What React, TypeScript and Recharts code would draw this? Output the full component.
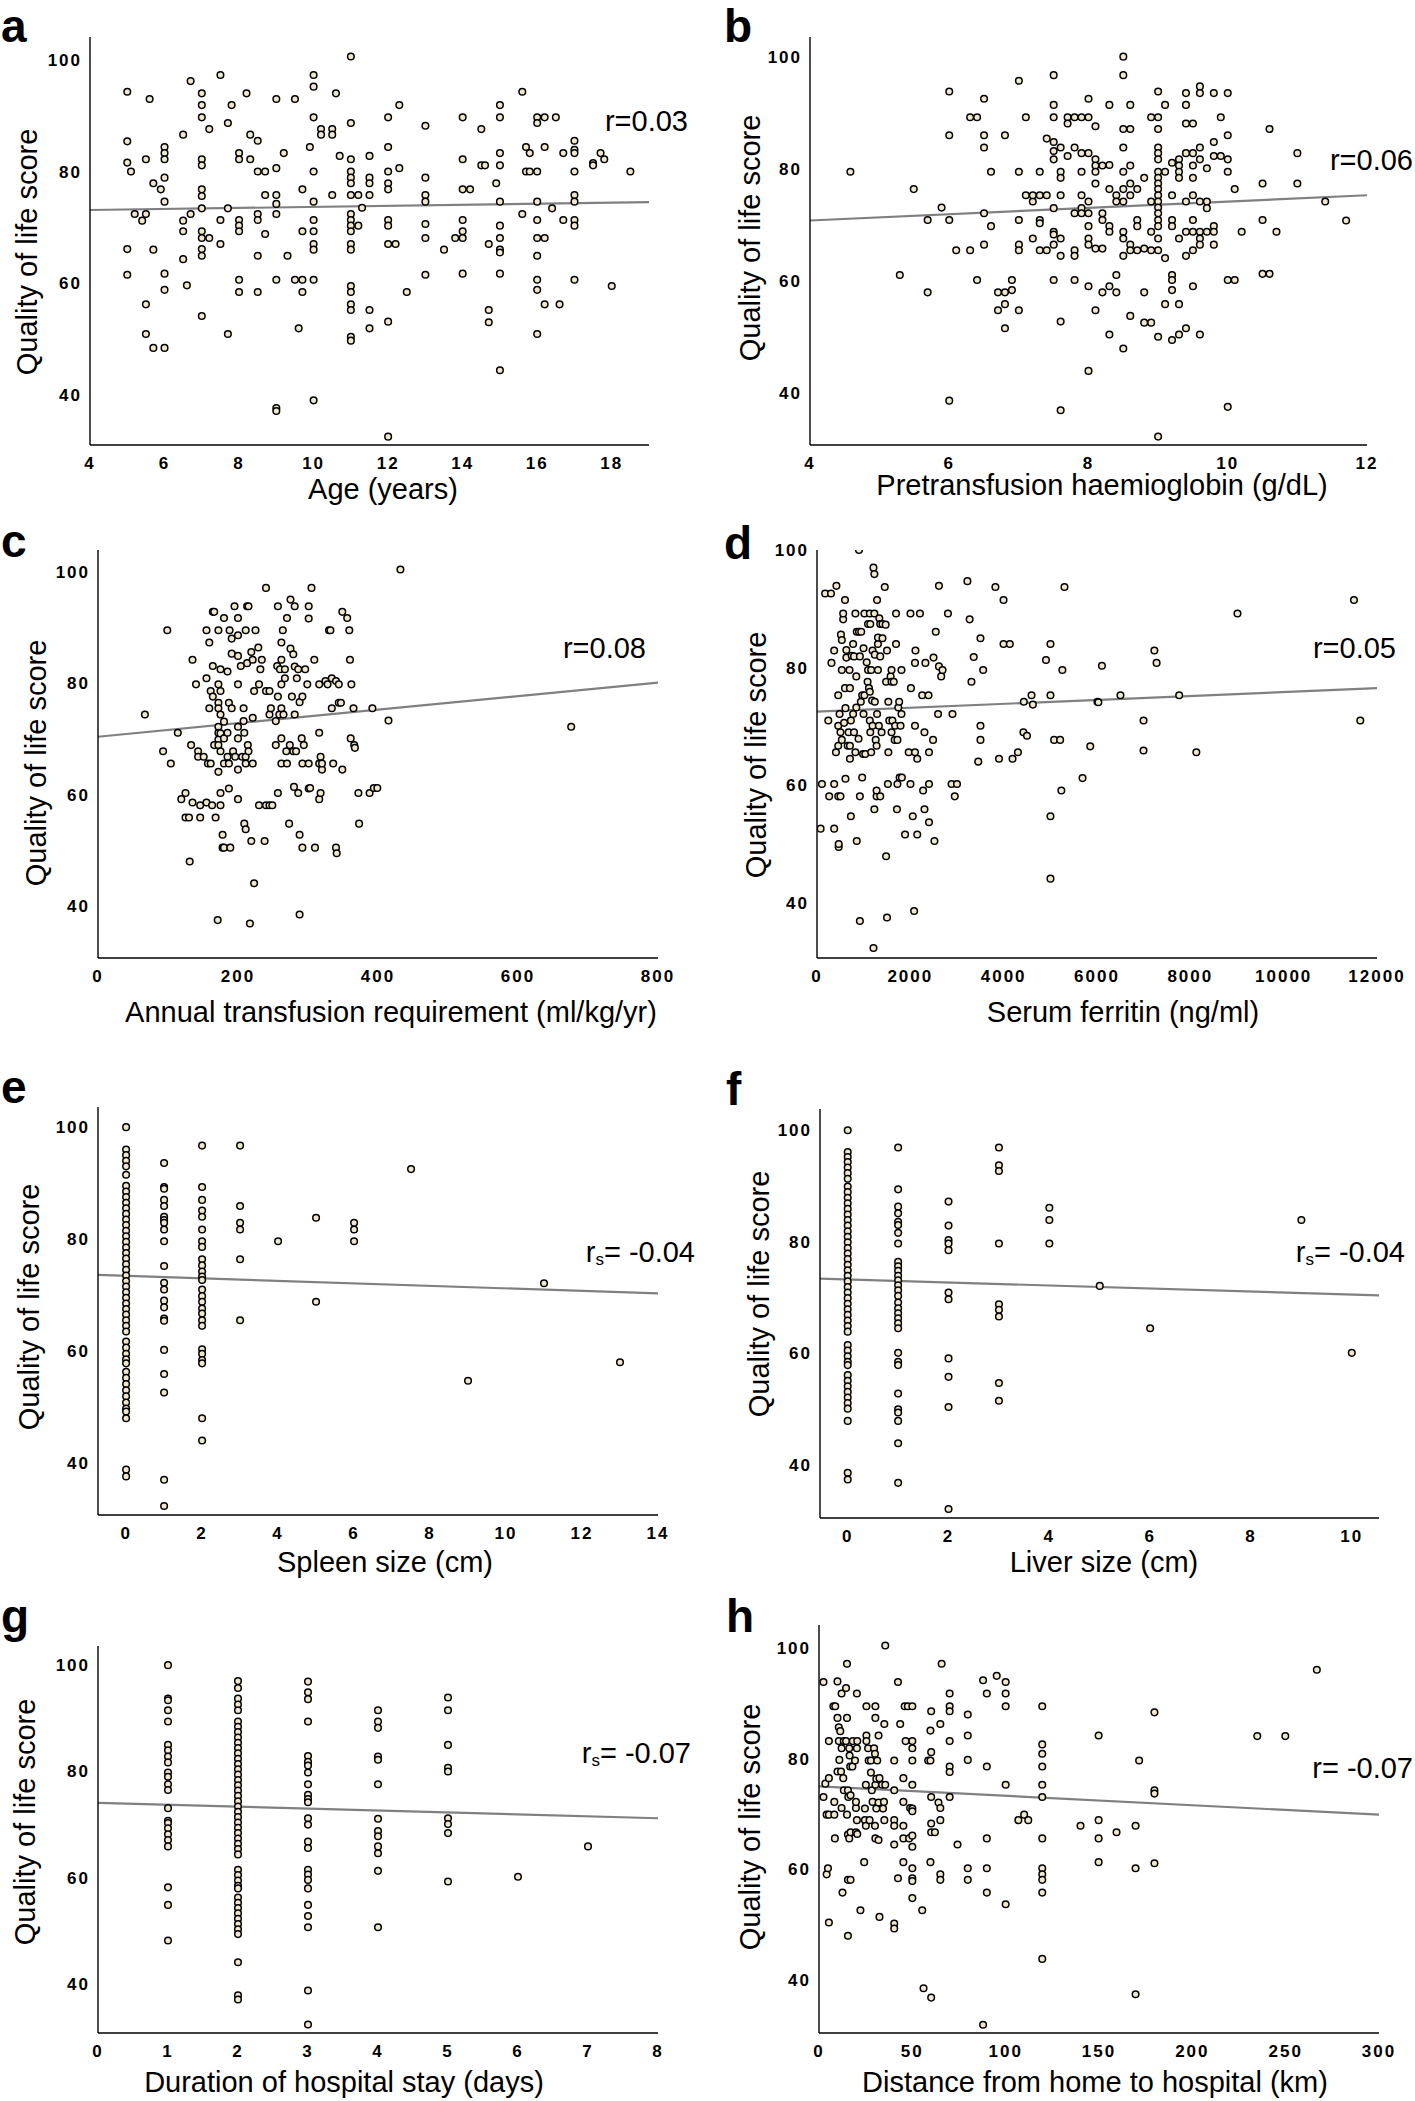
import React from 'react';
import { ScatterChart, Scatter, XAxis, YAxis, ReferenceLine } from 'recharts';

type Pt = [number, number];

// a: age (years) vs QoL
const ageData: Pt[] = [
  [5, 94.3], [5, 85.4], [5, 81.6], [5, 66.1], [5, 61.5], [5.1, 80], [5.2, 72.4], [5.4, 71.2], [5.5, 72.4], [5.5, 82.2], [5.5, 56.2], [5.5, 50.9], [5.6, 93], [5.7, 77.9], [5.7, 66], [5.7, 48.4], [5.9, 76.8],
  [6, 84.4], [6, 83.3], [6, 82.2], [6, 78.9], [6, 74.6], [6, 61.7], [6, 58.8], [6, 48.4],
  [6.5, 86.6], [6.5, 71.2], [6.5, 69.3], [6.5, 64.3], [6.6, 59.6], [6.7, 72.4], [6.7, 96.2],
  [7, 94], [7, 91.9], [7, 89.7], [7, 82.2], [7, 81.1], [7, 76.8], [7, 75.6], [7, 73.4], [7, 69.3], [7, 68.1], [7, 66.1], [7, 64.9], [7, 54.1],
  [7.2, 87.6], [7.2, 68.1], [7.5, 97.3], [7.5, 71.3], [7.5, 67], [7.7, 88.7], [7.7, 73.4], [7.7, 50.9], [7.8, 91.9],
  [8, 83.3], [8, 82.2], [8, 71.3], [8, 70.3], [8, 69.3], [8, 60.6], [8, 58.4], [8.2, 94], [8.3, 82.2], [8.3, 86.6], [8.5, 85.5], [8.5, 80], [8.5, 72.4], [8.5, 71.3], [8.5, 64.9], [8.5, 58.4], [8.7, 80], [8.7, 75.8], [8.7, 68.8],
  [9, 93], [9, 80.6], [9, 75.8], [9, 74.2], [9, 72.4], [9, 60.6], [9, 37.6], [9, 37.1], [9.2, 83.3], [9.3, 64.9], [9.5, 93], [9.5, 60.6], [9.7, 60.6], [9.7, 76.8], [9.7, 69.3], [9.7, 58.4], [9.6, 51.9], [9.9, 84.4],
  [10, 97.3], [10, 95.2], [10, 89.7], [10, 80], [10, 74.6], [10, 71.3], [10, 69.3], [10, 67], [10, 66], [10, 60.6], [10, 39], [10.2, 87.6], [10.2, 86.6], [10.5, 87.6], [10.5, 86.6], [10.5, 75.8], [10.6, 94], [10.7, 82.8],
  [11, 100.6], [11, 88.7], [11, 82.2], [11, 80], [11, 78.9], [11, 77.9], [11, 75.8], [11, 72.4], [11, 71.3], [11, 70.3], [11, 69.3], [11, 67], [11, 66], [11, 59.5], [11, 58.4], [11, 56.2], [11, 55.2], [11, 50.4], [11, 49.7],
  [11.2, 75.8], [11.2, 70.3], [11.3, 73.5], [11.5, 82.8], [11.5, 78.9], [11.5, 77.9], [11.5, 75.8], [11.5, 55.2], [11.5, 51.9],
  [12, 89.7], [12, 84.4], [12, 80], [12, 77.9], [12, 76.8], [12, 71.3], [12, 70.3], [12, 67], [12, 53.1], [12, 32.5], [12.2, 67], [12.3, 91.9], [12.3, 80.6], [12.5, 58.4],
  [13, 88.2], [13, 78.9], [13, 75.8], [13, 74.6], [13, 70.6], [13, 68.1], [13, 61.5], [13.5, 66],
  [14, 89.7], [14, 82.2], [14, 76.8], [14, 71.3], [14, 69.3], [14, 68.1], [14, 61.7], [13.8, 68.1], [14.2, 76.8], [14.5, 87.6], [14.5, 81.1], [14.6, 81.1], [14.7, 67], [14.7, 55.2], [14.7, 53],
  [15, 91.9], [15, 89.7], [15, 83.3], [15, 81.1], [15, 74.6], [15, 70.3], [15, 68.1], [15, 66], [15, 65.5], [15, 61.7], [15, 44.4], [14.9, 77.9], [15.6, 94.3], [15.6, 72.4], [15.7, 84.4], [15.8, 83.3], [15.7, 80], [15.8, 80],
  [16, 89.7], [16, 88.7], [16, 80], [16, 74.6], [16, 71.3], [16, 68.1], [16, 64.9], [16, 60.6], [16, 58.8], [16, 50.9], [16.2, 89.7], [16.2, 84.4], [16.2, 68.1], [16.2, 56.2], [16.4, 73.4], [16.5, 89.7], [16.6, 56.2], [16.7, 83.3], [16.7, 71.3],
  [17, 85.5], [17, 83.9], [17, 83.3], [17, 80], [17, 75.8], [17, 74.6], [17, 71.3], [17, 70.3], [17, 60.6], [17.5, 81.5], [17.5, 81.1], [17.7, 83.3], [17.8, 82.2], [18, 59.5], [18.5, 80],
];

// b: pretransfusion haemoglobin (g/dL)
const hbData: Pt[] = [
  [4.58, 79.5], [5.29, 61.1], [5.49, 76.4], [5.69, 70.9], [5.69, 58], [5.89, 73.1], [6, 93.8], [6, 86], [6, 70.9], [6, 38.7], [6.1, 65.5], [6.3, 65.5], [6.3, 89.2], [6.4, 89.2], [6.4, 60.2],
  [6.5, 92.5], [6.5, 86], [6.5, 83.8], [6.5, 72.1], [6.5, 66.5], [6.6, 79.5], [6.6, 69.8], [6.7, 58], [6.7, 54.8], [6.8, 58], [6.8, 55.9], [6.8, 51.6], [6.8, 86], [6.9, 60.2], [6.9, 58.4],
  [7, 95.7], [7, 79.5], [7, 70.9], [7, 66.5], [7, 65.5], [7, 54.8], [7.1, 89.2], [7.1, 75.3], [7.2, 74.2], [7.2, 75.3], [7.2, 67.6], [7.3, 79.5], [7.3, 70.9], [7.3, 70.3], [7.3, 65.5], [7.3, 75.3], [7.4, 75.3], [7.4, 65.5], [7.4, 85.4],
  [7.5, 96.7], [7.5, 91.4], [7.5, 89.2], [7.5, 84.8], [7.5, 83.2], [7.5, 81.7], [7.5, 73], [7.5, 68.8], [7.5, 68.3], [7.5, 66.5], [7.5, 60.2],
  [7.6, 83.8], [7.6, 79.5], [7.6, 78.4], [7.6, 75.3], [7.6, 67.6], [7.6, 64.5], [7.6, 52.8], [7.6, 37], [7.7, 89.2], [7.7, 88.1], [7.7, 82.3],
  [7.8, 89.2], [7.8, 83.8], [7.8, 72.1], [7.8, 65.5], [7.8, 64.5], [7.8, 60.2], [7.9, 89.2], [7.9, 82.8], [7.9, 79.5], [7.9, 75.3], [7.9, 73], [7.9, 72.1],
  [8, 92.5], [8, 89.2], [8, 82.8], [8, 74.2], [8, 72.1], [8, 69.8], [8, 67.6], [8, 66.5], [8, 59.1], [8, 44],
  [8.1, 87.6], [8.1, 81.7], [8.1, 80.6], [8.1, 79.5], [8.1, 77.4], [8.1, 65.8], [8.1, 54.8], [8.2, 80.6], [8.2, 72.1], [8.2, 70.9], [8.2, 65.8], [8.2, 58],
  [8.3, 91.4], [8.3, 80.7], [8.3, 76.4], [8.3, 69.8], [8.3, 68.8], [8.3, 59.1], [8.3, 50.5], [8.4, 75.3], [8.4, 74.2], [8.4, 61.1], [8.4, 58],
  [8.5, 100], [8.5, 96.7], [8.5, 87.1], [8.5, 83.8], [8.5, 79.5], [8.5, 76.4], [8.5, 74.2], [8.5, 68.8], [8.5, 67.6], [8.5, 64.5], [8.5, 48],
  [8.6, 91.4], [8.6, 87.1], [8.6, 80.6], [8.6, 77.4], [8.6, 75.3], [8.6, 66.5], [8.6, 65.5], [8.6, 53.8], [8.7, 76.4], [8.7, 70.9], [8.7, 69.8], [8.7, 65.5],
  [8.8, 78.4], [8.8, 65.8], [8.8, 58], [8.8, 52.6], [8.9, 89.2], [8.9, 74.2], [8.9, 68.8], [8.9, 65.5], [8.9, 52.6],
  [9, 93.8], [9, 89.2], [9, 87.1], [9, 83.8], [9, 82.8], [9, 81.7], [9, 79.5], [9, 78.4], [9, 77.4], [9, 76.4], [9, 75.3], [9, 74.2], [9, 73.1], [9, 72.1], [9, 70.9], [9, 69.8], [9, 67.6], [9, 65.5], [9, 50.1], [9, 32.3],
  [9.1, 91.4], [9.1, 79.5], [9.1, 64.1], [9.1, 55.9], [9.2, 81.1], [9.2, 75.3], [9.2, 70.9], [9.2, 69.8], [9.2, 61.1], [9.2, 60.2], [9.2, 58.4], [9.2, 49.5],
  [9.3, 81.7], [9.3, 80.6], [9.3, 79.5], [9.3, 78.4], [9.3, 67.6], [9.3, 55.9], [9.3, 50.5], [9.4, 93.5], [9.4, 91.4], [9.4, 88.1], [9.4, 82.8], [9.4, 74.2], [9.4, 68.8], [9.4, 64.5], [9.4, 51.6],
  [9.5, 88.1], [9.5, 82.8], [9.5, 80.6], [9.5, 78.4], [9.5, 75.3], [9.5, 70.9], [9.5, 68.8], [9.5, 65.5], [9.5, 59.1],
  [9.6, 94.7], [9.6, 93.5], [9.6, 83.8], [9.6, 81.7], [9.6, 74.2], [9.6, 68.8], [9.6, 67.6], [9.6, 66.5], [9.6, 50.5], [9.7, 80.1], [9.7, 74.2], [9.7, 73], [9.7, 68.8],
  [9.8, 93.5], [9.8, 84.8], [9.8, 82.3], [9.8, 69.8], [9.8, 68.8], [9.8, 66.5], [9.9, 89.2], [9.9, 82.3],
  [10, 93.5], [10, 86], [10, 81.7], [10, 79.5], [10, 60.2], [10, 37.6], [10.1, 76.4], [10.1, 60.2], [10.2, 68.8], [10.5, 77.4], [10.5, 70.9], [10.5, 61.3], [10.6, 61.3], [10.6, 87.1], [10.7, 68.8],
  [11, 82.8], [11, 77.4], [11.4, 74.2], [11.7, 70.8],
];

// c: annual transfusion requirement (ml/kg/yr)
const transfusionData: Pt[] = [
  [67, 74.4], [93, 67.8], [99, 89.5], [104, 65.6], [114, 71.1], [125, 60.3], [119, 59.2], [125, 55.9], [130, 55.9], [131, 48], [135, 84.2], [133, 68.9], [140, 79.8], [143, 67.8], [143, 66.8], [135, 58.6], [146, 58.1], [146, 55.9],
  [151, 66.8], [155, 89.5], [155, 80.9], [155, 58.6], [157, 65.6], [159, 75.5], [159, 87.3], [161, 65.6], [163, 58.1], [164, 92.8], [166, 92.8], [164, 83.1], [161, 78.6], [164, 77.6], [166, 68.9], [168, 55.9],
  [172, 89.5], [172, 79.8], [172, 76.5], [172, 75.5], [172, 72.2], [172, 71.1], [172, 69.9], [172, 68.9], [172, 64.1], [171, 37.5], [175, 82.5], [175, 78.6], [175, 74.4], [175, 71], [175, 67.8], [175, 60.3], [175, 58.1], [178, 52.8], [178, 50.5],
  [180, 91.7], [180, 73.1], [180, 70.1], [180, 65.6], [180, 50.5], [185, 82.1], [185, 71.1], [185, 66.8], [187, 76.5], [187, 61.1], [187, 65.6], [188, 89.5], [189, 50.5], [191, 88], [191, 75.5], [191, 85.3], [193, 67.8], [195, 93.8], [196, 66.8],
  [200, 79.8], [200, 72.2], [200, 70.1], [200, 64.5], [200, 59.2], [200, 91.7], [200, 88.6], [200, 84.9], [204, 83.1], [206, 66.8], [208, 75.5], [208, 73.2], [209, 71.1], [209, 54.8], [211, 53.8], [211, 66.8], [211, 65.6], [211, 89.5], [213, 93.8], [213, 83.6],
  [214, 68.9], [215, 67.8], [215, 93.8], [217, 36.9], [219, 85.6], [219, 51.7], [221, 73.8], [221, 84.2], [221, 65.6], [223, 78.6], [223, 44.1], [225, 89.5], [229, 86.4], [230, 79.8], [230, 58.1], [232, 82.5], [234, 84.2],
  [240, 97.1], [238, 51.7], [240, 78.6], [240, 58.1], [245, 78.6], [245, 58.1], [245, 74.4], [247, 75.5], [249, 58.1], [254, 73.2], [254, 68.9], [256, 83.1], [257, 93.8], [257, 77.6], [257, 60.3], [259, 74.4], [260, 82.5],
  [262, 87.3], [262, 84.2], [262, 79.8], [262, 75.5], [262, 70.1], [262, 65.6], [264, 89.5], [265, 74.4], [267, 80.9], [267, 82.5], [269, 67.8], [270, 91.7], [270, 65.6], [273, 54.8], [274, 68.9], [275, 95], [275, 86.2], [277, 77.6],
  [279, 85.2], [279, 67.8], [280, 61.4], [281, 93.8], [281, 74.4], [281, 83], [283, 67.8], [284, 80.9], [286, 60.3], [286, 82.5], [288, 38.5], [288, 52.8], [288, 76.6], [291, 70.1], [292, 77.6], [292, 65.6], [292, 50.5], [294, 68.9],
  [296, 82.5], [299, 79.8], [301, 93.8], [301, 91.6], [301, 65.6], [301, 61.1], [303, 61.2], [305, 97.1], [309, 84.2], [310, 50.5], [316, 79.8], [316, 71.1], [316, 65.6], [316, 59.2], [318, 66.8], [318, 60.3], [320, 64.5], [320, 65.6],
  [325, 80.4], [328, 79.8], [330, 89.5], [332, 89.5], [334, 80.9], [334, 75.5], [336, 65.6], [340, 80.4], [340, 50.5], [341, 49.5], [344, 79.8], [344, 76.5], [347, 76.5], [349, 92.8], [349, 64.5], [356, 91.7],
  [359, 89.5], [360, 84.2], [361, 70.1], [362, 79.8], [365, 75.5], [366, 68.9], [367, 68.4], [372, 60.3], [373, 54.8], [388, 60.3], [392, 75.5], [394, 61.2], [399, 61.2], [415, 73.3], [432, 100.4], [676, 72.2],
];

// d: serum ferritin (ng/ml)
const ferritinData: Pt[] = [
  [77, 52.6], [106, 60.2], [174, 92.6], [242, 71], [261, 58.1], [300, 92.6], [310, 80.8], [368, 82.9], [368, 60.2], [368, 52.6], [406, 65.6], [416, 93.9], [455, 75.3], [465, 49.5], [465, 50], [455, 58.1], [455, 70.1], [455, 66.7],
  [484, 72.1], [503, 58.1], [503, 69], [513, 85.6], [532, 84.7], [532, 79.6], [532, 67.7], [561, 88.2], [561, 89.2], [581, 70.6], [600, 91.5], [600, 76.5], [610, 73.1], [610, 61.1], [629, 81.7], [629, 83], [658, 66.7], [677, 69],
  [697, 79.6], [706, 76.5], [706, 66.7], [706, 64.5], [726, 71], [726, 54.7], [745, 82], [774, 84], [774, 72.1], [793, 81.9], [793, 69], [823, 89.2], [823, 65.6], [842, 78.5], [842, 73.2], [852, 86.1], [852, 50.5], [890, 67.9],
  [900, 86.1], [900, 100], [919, 81.9], [919, 36.9], [919, 58.1], [939, 74.2], [948, 86.1], [968, 61.3], [968, 75.3], [987, 65.3], [997, 83.3], [997, 72.1], [1016, 89.2], [1016, 75.3], [1035, 65.3],
  [1065, 80.9], [1084, 77.6], [1094, 87.4], [1094, 79.6], [1113, 76.5], [1132, 89.2], [1132, 71], [1132, 75.9], [1142, 87.4], [1142, 69], [1161, 79.6], [1161, 65.6], [1181, 74.4], [1190, 82.9], [1190, 70.1], [1210, 32.3], [1210, 97],
  [1229, 89.2], [1229, 95.9], [1229, 55.9], [1239, 82.2], [1239, 74.2], [1258, 67.7], [1277, 66.7], [1277, 58.1], [1277, 59.1], [1287, 72.1], [1287, 91.5], [1306, 84], [1306, 85.1], [1306, 79.6], [1326, 70.1], [1335, 88.4],
  [1355, 87.4], [1355, 58.1], [1355, 81.9], [1384, 69], [1403, 85], [1403, 87.4], [1452, 93.7], [1471, 87.3], [1481, 77.6], [1481, 47.9], [1500, 82.9], [1500, 37.5], [1519, 60.2], [1529, 65.6], [1529, 74.2], [1548, 71],
  [1577, 78.5], [1597, 77.6], [1597, 69], [1597, 79.6], [1616, 71], [1645, 77.6], [1665, 67.7], [1674, 70.1], [1694, 84], [1694, 89.2], [1713, 55.9], [1723, 67.7], [1723, 60.2], [1742, 73.2], [1761, 74.2], [1771, 61.3],
  [1790, 70.1], [1810, 72.1], [1810, 79.6], [1819, 61.3], [1887, 51.6], [1965, 65.6], [2003, 89.2], [2003, 60.2], [2013, 76.5], [2052, 54.7], [2081, 38.6], [2100, 70.1], [2100, 65.6], [2100, 80.8], [2110, 82.9],
  [2148, 51.6], [2148, 64.5], [2206, 89.2], [2255, 75.3], [2274, 59.1], [2303, 55.9], [2303, 69], [2323, 80.8], [2390, 75.3], [2400, 53.7], [2400, 65.6], [2400, 60.2], [2487, 67.7], [2497, 81.7], [2516, 50.5], [2545, 86.1],
  [2594, 72.1], [2613, 93.9], [2613, 80.2], [2661, 78.5], [2690, 79.6], [2806, 89.2], [2903, 72.1], [2884, 60.2], [2952, 58.1], [3000, 60.2], [3223, 94.7], [3271, 88.2], [3310, 77.6], [3358, 81.8], [3455, 64], [3503, 70.1],
  [3503, 67.7], [3503, 85], [3561, 79.6], [3823, 93.7], [3900, 64.5], [3997, 91.5], [3997, 84], [4132, 84], [4190, 64.5], [4306, 65.6], [4423, 69], [4500, 68.4], [4432, 74.2], [4597, 75.3], [4626, 73.7], [4907, 81.3],
  [5003, 84], [5003, 75.3], [5003, 54.7], [5003, 44.1], [5081, 67.7], [5210, 67.7], [5236, 59.1], [5258, 79.6], [5303, 93.7], [5690, 61.2], [5855, 66.6], [6010, 74.2], [6029, 74.1], [6106, 80.3], [6503, 75.3], [6997, 71],
  [6997, 65.9], [7229, 82.9], [7277, 80.8], [7761, 75.3], [8129, 65.6], [9010, 89.2], [11506, 91.5], [11642, 71],
];

// e: spleen size (cm)
const spleenData: Pt[] = [
  [0, 100], [0, 96], [0, 95], [0, 94], [0, 93], [0, 91.5], [0, 89.5], [0, 88.5], [0, 87.5], [0, 86.5], [0, 85.5], [0, 84.5], [0, 83.5], [0, 82.5], [0, 81.5], [0, 80.5], [0, 79.5], [0, 78.5], [0, 77.5],
  [0, 76.5], [0, 75.5], [0, 74.5], [0, 73.5], [0, 72.5], [0, 71.5], [0, 70.5], [0, 69.5], [0, 68.5], [0, 67.5], [0, 66.5], [0, 65.5], [0, 64.5], [0, 63.5], [0, 61.7], [0, 60.6], [0, 59.5], [0, 58.5], [0, 57.8],
  [0, 56.3], [0, 55.2], [0, 54.1], [0, 53], [0, 51.9], [0, 50.8], [0, 49.7], [0, 49.2], [0, 48], [0, 38.8], [0, 37.6],
  [1, 93.6], [1, 89.3], [1, 89], [1, 87], [1, 85.9], [1, 84], [1, 83.4], [1, 82.9], [1, 81.7], [1, 79.6], [1, 75.2], [1, 72.2], [1, 71], [1, 69], [1, 67.8], [1, 65.8], [1, 65.4], [1, 60.2], [1, 55.9], [1, 52.6], [1, 37], [1, 32.3],
  [2, 96.7], [2, 89.3], [2, 87], [2, 85.1], [2, 84], [2, 81.7], [2, 79.6], [2, 78.6], [2, 76.4], [2, 75.3], [2, 74.2], [2, 73.3], [2, 72.7], [2, 71], [2, 69.8], [2, 68.8], [2, 67.6], [2, 66.7], [2, 65.5], [2, 64.5],
  [2, 60.3], [2, 59.5], [2, 58.4], [2, 57.8], [2, 48], [2, 44],
  [3, 96.7], [3, 85.9], [3, 82.9], [3, 81.7], [3, 76.4], [3, 65.5],
  [4, 79.6], [5, 83.8], [5, 68.8], [6, 82.9], [6, 81.7], [6, 79.6], [7.5, 92.5], [9, 54.7], [11, 72.1], [13, 58],
];

// f: liver size (cm)
const liverData: Pt[] = [
  [0, 100], [0, 96.1], [0, 95.2], [0, 94.3], [0, 93.3], [0, 92.3], [0, 91.3], [0, 89.9], [0, 88.9], [0, 87.9], [0, 86.9], [0, 85.9], [0, 84.9], [0, 83.9], [0, 82.9], [0, 81.9], [0, 80.9], [0, 79.9], [0, 78.9],
  [0, 77.9], [0, 76.9], [0, 75.9], [0, 74.9], [0, 73.9], [0, 72.9], [0, 71.9], [0, 70.9], [0, 69.9], [0, 68.9], [0, 67.9], [0, 66.9], [0, 65.9], [0, 64.9], [0, 63.9], [0, 61.5], [0, 60.5], [0, 59.5], [0, 58.5], [0, 57.9],
  [0, 56.1], [0, 55.1], [0, 54.1], [0, 53.1], [0, 52.1], [0, 51.1], [0, 50.1], [0, 47.9], [0, 38.6], [0, 37.4],
  [1, 96.9], [1, 89.4], [1, 86.3], [1, 85.1], [1, 83.6], [1, 83], [1, 81.6], [1, 79.7], [1, 76.4], [1, 75.6], [1, 74.8], [1, 73.9], [1, 73.1], [1, 72.2], [1, 71.3], [1, 70.3], [1, 69.1], [1, 68.1], [1, 67.2], [1, 66.3],
  [1, 65.4], [1, 64.5], [1, 60.1], [1, 58.5], [1, 57.9], [1, 52.8], [1, 50], [1, 49.4], [1, 47.9], [1, 43.9], [1, 36.8],
  [2, 87.2], [2, 82.9], [2, 80.3], [2, 79.7], [2, 78.5], [2, 70.9], [2, 69.7], [2, 59.1], [2, 55.8], [2, 50.4], [2, 32.1],
  [3, 96.9], [3, 93.7], [3, 92.7], [3, 79.7], [3, 68.8], [3, 67.8], [3, 66.6], [3, 54.7], [3, 51.5],
  [4, 86.1], [4, 83.9], [4, 79.7], [5, 72.1], [6, 64.5], [9, 83.9], [10, 60.1],
];

// g: duration of hospital stay (days)
const stayData: Pt[] = [
  [1, 100], [1, 93.7], [1, 93.4], [1, 91.5], [1, 89.4], [1, 85], [1, 84], [1, 82.8], [1, 81.7], [1, 79.8], [1, 79], [1, 77.6], [1, 76.5], [1, 73.1], [1, 70.7], [1, 70.3], [1, 69.3], [1, 68.2], [1, 67.1], [1, 65.9],
  [1, 58.2], [1, 54.9], [1, 48.2],
  [2, 97], [2, 95.7], [2, 93.7], [2, 92.6], [2, 91.5], [2, 89.4], [2, 88.4], [2, 87.4], [2, 86.4], [2, 85.4], [2, 84.4], [2, 83.4], [2, 82.4], [2, 81.4], [2, 80.4], [2, 79.4], [2, 78.4], [2, 77.4], [2, 76.4],
  [2, 75.4], [2, 74.4], [2, 73.4], [2, 72.4], [2, 71.4], [2, 70.4], [2, 69.4], [2, 68.4], [2, 67.4], [2, 66.4], [2, 65.4], [2, 64.4], [2, 61.5], [2, 60.5], [2, 59.5], [2, 58.5], [2, 58],
  [2, 56.3], [2, 55.3], [2, 54.3], [2, 53.3], [2, 52.3], [2, 51.3], [2, 50.3], [2, 49.4], [2, 44.1], [2, 37.9], [2, 37.1],
  [3, 96.9], [3, 94.9], [3, 93.6], [3, 89.4], [3, 82.9], [3, 81.8], [3, 81.1], [3, 79.8], [3, 77.6], [3, 75.6], [3, 74.8], [3, 74.2], [3, 71.2], [3, 70], [3, 66.8], [3, 65.6], [3, 61.5], [3, 60.6], [3, 59.6], [3, 58],
  [3, 54.9], [3, 52.8], [3, 50.7], [3, 38.8], [3, 32.4],
  [4, 91.5], [4, 89.4], [4, 88.2], [4, 82.8], [4, 82.2], [4, 77.6], [4, 71.1], [4, 68.8], [4, 67.8], [4, 65.9], [4, 64.6], [4, 61.3], [4, 50.7],
  [5, 93.9], [5, 91.5], [5, 85], [5, 80.7], [5, 80], [5, 71.2], [5, 70.1], [5, 68.4], [5, 59.3],
  [6, 60.2], [7, 65.9],
];

// h: distance from home to hospital (km)
const distanceData: Pt[] = [
  [2.4, 93.9], [2.4, 73.1], [3.4, 75.5], [4.1, 59.1], [4.8, 60.2], [4.1, 69.9], [5.3, 69.9], [5.3, 76.5], [5.3, 50.4], [5.3, 83.2], [7.7, 89.5], [8.2, 69.9], [8.2, 72.2], [8.5, 65.6], [8.7, 89.5], [9.9, 94], [9.9, 77.7],
  [9.9, 87.4], [10.6, 85.7], [10.6, 83.2], [10.9, 79.8], [11.4, 85], [11.8, 77.7], [12.1, 71.1], [12.1, 81.9], [12.1, 91.8], [12.6, 55.8], [13, 76.5], [13.3, 74.3], [13.3, 83.2], [14.5, 92.8], [14.5, 83.2], [15, 87.4],
  [15, 97.2], [15, 69.9], [15.5, 48], [15.5, 58.1], [15.5, 66.3], [15.5, 74.3], [15.7, 73.1], [16.2, 81.9], [16.2, 65.6], [16.4, 80.6], [16.7, 78.6], [16.9, 58.1], [16.9, 73.4], [16.9, 66.7], [17.9, 78.6], [18.1, 83.2],
  [19.3, 79.7], [19.8, 71.1], [19.8, 66.7], [19.8, 72.2], [20.3, 91.8], [20.3, 81.9], [20.3, 68.9], [20.5, 66.4], [20.5, 83.2], [22.2, 52.6], [24.2, 61.3], [24.6, 71], [24.6, 68.9], [25.1, 67.9], [25.1, 75.3], [25.4, 84.2],
  [25.4, 89.5], [25.4, 83.2], [26.3, 81.9], [26.6, 79.7], [27.1, 68.9], [27.8, 77.5], [27.8, 79.7], [28.3, 74.3], [28.7, 72.2], [29.5, 81.9], [30, 80.9], [30, 67.9], [30.2, 89.5], [30.2, 87.4], [30.2, 75.3], [30.2, 65.6],
  [30.7, 71], [30.7, 76.4], [31.2, 79.7], [31.9, 65.3], [31.9, 84.2], [31.9, 72.1], [32.4, 76.5], [32.4, 51.4], [33.8, 75.3], [34.3, 71], [34.8, 72.2], [35, 86.3], [35, 68.9], [35.5, 100.5], [35.5, 75.3], [40.3, 79.7],
  [40.3, 74.3], [40.3, 68.9], [40.3, 67.9], [40.3, 64.5], [40.3, 50.2], [40.3, 49.3], [42.3, 93.9], [42.3, 58.4], [43.5, 86.3], [45.2, 76.5], [45.2, 72.2], [45.2, 61.3], [45.2, 67.9], [45.2, 65.6], [45.9, 89.5], [46.4, 83.2],
  [47.6, 89.5], [48.3, 65.6], [48.8, 71.1], [50, 89.5], [50, 83.2], [50, 81.9], [50, 79.7], [50, 75.3], [50, 71], [50, 70.5], [50, 66.1], [50, 64.1], [50, 60.2], [50, 58.4], [50, 57.9], [50, 54.8], [55.3, 52.6], [56, 38.5],
  [58.5, 79.7], [59.7, 79.7], [59.7, 85.1], [59.7, 61.3], [60.1, 88.6], [60.1, 81.2], [60.1, 73.1], [60.1, 68.3], [60.1, 66.7], [60.1, 36.8], [62.1, 66.7], [64, 72.1], [65, 86.3], [65, 71.1], [65, 68.9], [65, 59.1], [65, 58.1],
  [65.7, 97.2], [70, 91.8], [70, 89.5], [70, 88.6], [70, 83.2], [70, 78.6], [70, 77.6], [70, 73.1], [74.2, 64.5], [79.7, 88], [79.7, 84.2], [79.7, 79.8], [79.7, 60.2], [79.7, 58.1], [87.9, 31.9], [87.9, 94.2],
  [89.9, 91.8], [89.9, 78.6], [89.9, 65.6], [89.9, 60.2], [89.9, 55.8], [95.2, 95], [100, 93.9], [100, 91.8], [100, 89.5], [100, 75.3], [100, 53.7], [106.8, 68.9], [109.9, 69.9], [112.1, 68.9],
  [119.6, 89.5], [119.6, 82.6], [119.6, 80.9], [119.6, 78.6], [119.6, 75.3], [119.6, 73.1], [119.6, 65.6], [119.6, 60.2], [119.6, 59.1], [119.6, 58.1], [119.6, 55.8], [119.6, 43.8],
  [140.1, 67.9], [149.8, 84.2], [149.8, 68.9], [149.8, 65.6], [149.8, 61.3], [159.4, 66.7], [169.6, 67.9], [169.6, 60.2], [169.6, 37.4], [171.5, 79.7], [179.7, 88.4], [179.7, 74.3], [179.7, 73.7], [179.7, 61.1],
  [234.8, 84.1], [249.8, 84.1], [266.7, 96.1],
];

// fitted regression lines (start, end)
const ageFit: Pt[] = [[4, 73.1], [19, 74.5]];
const hbFit: Pt[] = [[4, 70.8], [12, 75.3]];
const transfusionFit: Pt[] = [[0, 70.4], [800, 80.1]];
const ferritinFit: Pt[] = [[0, 72.5], [12000, 76.5]];
const spleenFit: Pt[] = [[-0.74, 73.6], [14, 70.3]];
const liverFit: Pt[] = [[-0.55, 73.4], [10.54, 70.4]];
const stayFit: Pt[] = [[0, 74.1], [8, 71.2]];
const distanceFit: Pt[] = [[0, 75], [300, 69.9]];

const qolTicks = [40, 60, 80, 100];

const FONT = '"Liberation Sans", Arial, Helvetica, sans-serif';

const tickStyle = { fill: '#000', fontSize: 17, fontWeight: 700, fontFamily: FONT, letterSpacing: 2 };
const axisStyle = { stroke: '#000', strokeWidth: 1.4 };

const Dot = (props: any) => {
  const { cx, cy } = props;
  if (cx == null || cy == null) return <g />;
  return <circle cx={cx} cy={cy} r={3.3} fill="#efe8cc" stroke="#000" strokeWidth={1.5} />;
};

interface Box { l: number; r: number; t: number; b: number }

interface PanelProps {
  data: Pt[];
  fit: Pt[];
  xDomain: [number, number];
  xTicks: number[];
  yDomain: [number, number];
  box: Box;
}

const Panel = ({ data, fit, xDomain, xTicks, yDomain, box }: PanelProps) => {
  const padL = 60, padT = 10, padR = 40, padB = 40;
  const w = box.r - box.l + padL + padR;
  const h = box.b - box.t + padT + padB;
  const rows = data.map(([x, y]) => ({ x, y }));
  return (
    <div style={{ position: 'absolute', left: box.l - padL, top: box.t - padT }}>
      <ScatterChart width={w} height={h} margin={{ top: padT, right: padR, bottom: 0, left: 0 }}>
        <XAxis type="number" dataKey="x" domain={xDomain} ticks={xTicks} interval={0} allowDataOverflow
          height={padB} tickLine={false} tickMargin={6} axisLine={axisStyle} tick={tickStyle} />
        <YAxis type="number" dataKey="y" domain={yDomain} ticks={qolTicks} interval={0} allowDataOverflow
          width={padL} tickLine={false} axisLine={axisStyle} tick={tickStyle} />
        <ReferenceLine segment={[{ x: fit[0][0], y: fit[0][1] }, { x: fit[1][0], y: fit[1][1] }]}
          stroke="#808080" strokeWidth={2.2} ifOverflow="visible" />
        <Scatter data={rows} shape={Dot} isAnimationActive={false} />
      </ScatterChart>
    </div>
  );
};

const panels = [
  { key: 'a', data: ageData, fit: ageFit, xDomain: [4, 19], xTicks: [4, 6, 8, 10, 12, 14, 16, 18], yDomain: [31, 104.1], box: { l: 90, r: 649, t: 37, b: 445 } },
  { key: 'b', data: hbData, fit: hbFit, xDomain: [4, 12], xTicks: [4, 6, 8, 10, 12], yDomain: [30.8, 103.5], box: { l: 810, r: 1367, t: 37, b: 445 } },
  { key: 'c', data: transfusionData, fit: transfusionFit, xDomain: [0, 800], xTicks: [0, 200, 400, 600, 800], yDomain: [30.7, 103.9], box: { l: 98, r: 658, t: 550, b: 958 } },
  { key: 'd', data: ferritinData, fit: ferritinFit, xDomain: [0, 12000], xTicks: [0, 2000, 4000, 6000, 8000, 10000, 12000], yDomain: [30.6, 100], box: { l: 817, r: 1377, t: 550, b: 958 } },
  { key: 'e', data: spleenData, fit: spleenFit, xDomain: [-0.74, 14], xTicks: [0, 2, 4, 6, 8, 10, 12, 14], yDomain: [30.7, 103.6], box: { l: 98, r: 658, t: 1107, b: 1515 } },
  { key: 'f', data: liverData, fit: liverFit, xDomain: [-0.55, 10.54], xTicks: [0, 2, 4, 6, 8, 10], yDomain: [30.5, 103.8], box: { l: 820, r: 1379, t: 1109, b: 1518 } },
  { key: 'g', data: stayData, fit: stayFit, xDomain: [0, 8], xTicks: [0, 1, 2, 3, 4, 5, 6, 7, 8], yDomain: [30.8, 103.6], box: { l: 98, r: 658, t: 1646, b: 2033 } },
  { key: 'h', data: distanceData, fit: distanceFit, xDomain: [0, 300], xTicks: [0, 50, 100, 150, 200, 250, 300], yDomain: [30.4, 104.2], box: { l: 819, r: 1379, t: 1625, b: 2033 } },
];

// panel texts: x title, r label
const xTitles = [
  'Age (years)', 'Pretransfusion haemioglobin (g/dL)', 'Annual transfusion requirement (ml/kg/yr)', 'Serum ferritin (ng/ml)',
  'Spleen size (cm)', 'Liver size (cm)', 'Duration of hospital stay (days)', 'Distance from home to hospital (km)',
];
const rLabels = [
  { r: 'r', sub: '', val: '=0.03' }, { r: 'r', sub: '', val: '=0.06' }, { r: 'r', sub: '', val: '=0.08' }, { r: 'r', sub: '', val: '=0.05' },
  { r: 'r', sub: 's', val: '= -0.04' }, { r: 'r', sub: 's', val: '= -0.04' }, { r: 'r', sub: 's', val: '= -0.07' }, { r: 'r', sub: '', val: '= -0.07' },
];
const textPos = [
  { lx: 1, ly: 42, tx: 383, ty: 499, yx: 37, yy: 252, rx: 688, ry: 131 },
  { lx: 724, ly: 42, tx: 1102, ty: 495, yx: 760, yy: 238, rx: 1413, ry: 170 },
  { lx: 1, ly: 557, tx: 391, ty: 1022, yx: 46, yy: 763, rx: 646, ry: 658 },
  { lx: 724, ly: 559, tx: 1123, ty: 1022, yx: 766, yy: 755, rx: 1396, ry: 658 },
  { lx: 1, ly: 1103, tx: 385, ty: 1572, yx: 39, yy: 1307, rx: 695, ry: 1262 },
  { lx: 726, ly: 1105, tx: 1104, ty: 1572, yx: 769, yy: 1294, rx: 1405, ry: 1262 },
  { lx: 1, ly: 1632, tx: 344, ty: 2092, yx: 35, yy: 1822, rx: 691, ry: 1763 },
  { lx: 726, ly: 1632, tx: 1095, ty: 2092, yx: 760, yy: 1827, rx: 1413, ry: 1778 },
];

export default function App() {
  return (
    <div style={{ position: 'absolute', left: 0, top: 0, width: 1415, height: 2101, background: '#fff', overflow: 'hidden', fontFamily: FONT }}>
      {panels.map((p) => (
        <Panel key={p.key} data={p.data} fit={p.fit} xDomain={p.xDomain as [number, number]} xTicks={p.xTicks}
          yDomain={p.yDomain as [number, number]} box={p.box} />
      ))}
      <svg width={1415} height={2101} style={{ position: 'absolute', left: 0, top: 0, pointerEvents: 'none' }} fontFamily={FONT}>
        {panels.map((p, i) => {
          const t = textPos[i];
          const rl = rLabels[i];
          return (
            <g key={p.key}>
              <text x={t.lx} y={t.ly} fontSize={46} fontWeight={700} fill="#000">{p.key}</text>
              <text x={t.tx} y={t.ty} fontSize={29} textAnchor="middle" fill="#000">{xTitles[i]}</text>
              <text transform={`translate(${t.yx},${t.yy}) rotate(-90)`} fontSize={29} textAnchor="middle" fill="#000">Quality of life score</text>
              <text x={t.rx} y={t.ry} fontSize={29} textAnchor="end" fill="#000">
                {rl.r}
                {rl.sub ? <tspan fontSize={17} dy={3}>{rl.sub}</tspan> : null}
                <tspan dy={rl.sub ? -3 : 0}>{rl.val}</tspan>
              </text>
            </g>
          );
        })}
      </svg>
    </div>
  );
}
